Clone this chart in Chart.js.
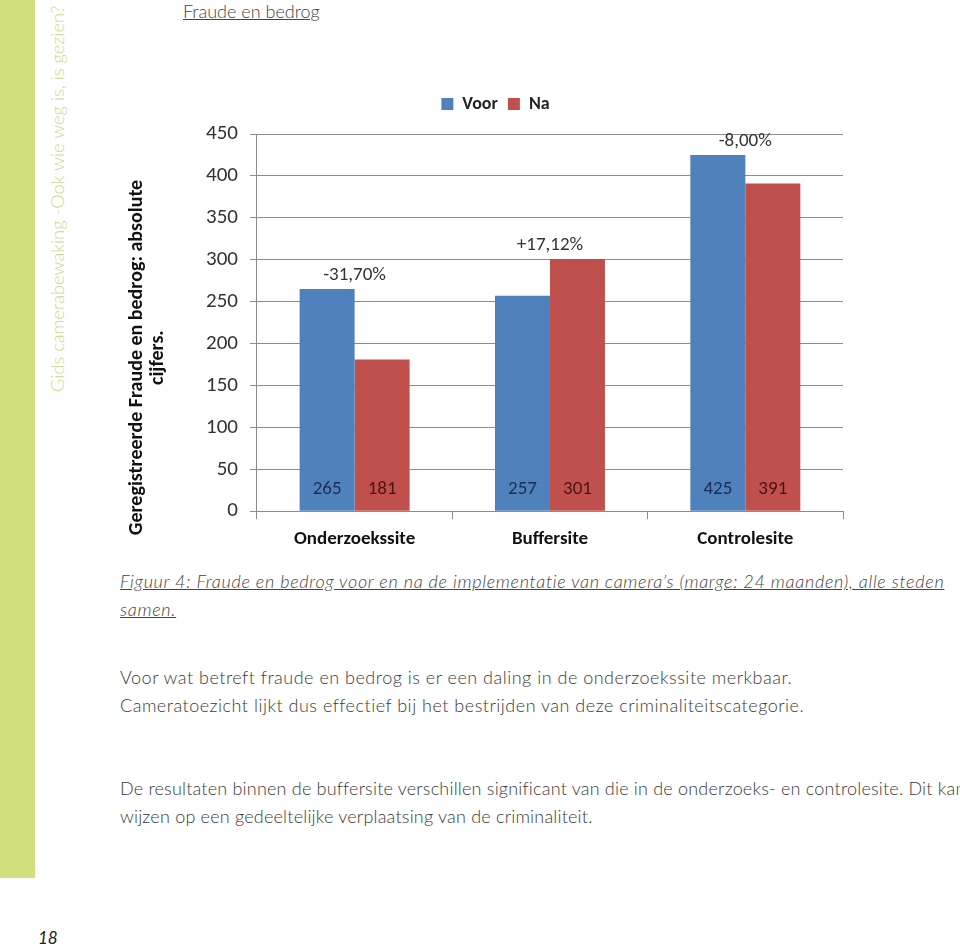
<!DOCTYPE html>
<html>
<head>
<meta charset="utf-8">
<script src="https://cdn.jsdelivr.net/npm/chart.js@4"></script>
<style>
  body { margin:0; background:#fff; width:960px; height:947px; position:relative; overflow:hidden;
         font-family: Lato, "Open Sans", sans-serif; font-weight:300; color:#3a3a3a; }
  .side { position:absolute; left:0; top:0; width:35px; height:878px; background:#d3df7d; }
  .sidetxt { position:absolute; left:46px; top:392px; transform-origin:0 0; transform:rotate(-90deg);
             white-space:nowrap; font-size:18.3px; color:#c9db8c; }
  .head { position:absolute; left:183px; top:0px; font-size:18px; text-decoration:underline; color:#444; }
  .wrap { position:absolute; left:118px; top:85px; width:742px; height:477px; }
  .cap { position:absolute; left:120px; top:567px; font-size:18px; letter-spacing:0.7px; font-style:italic; line-height:28px;
         text-decoration:underline; white-space:nowrap; color:#444; }
  .txt { position:absolute; left:120px; font-size:18px; letter-spacing:0.5px; line-height:28px; white-space:nowrap; color:#3a3a3a; }
  .pg { position:absolute; left:38px; top:927px; font-size:17px; font-style:italic; color:#222; font-weight:400; }
</style>
</head>
<body>
<div class="side"></div>
<div class="sidetxt">Gids camerabewaking -Ook wie weg is, is gezien?</div>
<div class="head">Fraude en bedrog</div>
<div class="wrap"><canvas id="chart"></canvas></div>
<div class="cap">Figuur 4: Fraude en bedrog voor en na de implementatie van camera’s (marge: 24 maanden), alle steden<br>samen.</div>
<div class="txt" style="top:663px">Voor wat betreft fraude en bedrog is er een daling in de onderzoekssite merkbaar.<br>Cameratoezicht lijkt dus effectief bij het bestrijden van deze criminaliteitscategorie.</div>
<div class="txt" style="top:774px; letter-spacing:0.2px">De resultaten binnen de buffersite verschillen significant van die in de onderzoeks- en controlesite. Dit kan<br>wijzen op een gedeeltelijke verplaatsing van de criminaliteit.</div>
<div class="pg">18</div>
<script>
let categories = ["Onderzoekssite", "Buffersite", "Controlesite"],
    voor = [265, 257, 425],
    na = [181, 301, 391],
    changeLabels = ["-31,70%", "+17,12%", "-8,00%"],
    yTitle = ["Geregistreerde Fraude en bedrog: absolute", "cijfers."]

Chart.defaults.font.family = "Carlito, Lato, sans-serif"

// value labels at the bottom of the bars + percentage above each pair
let barLabels = {
  id: "barLabels",
  afterDatasetsDraw(chart) {
    let ctx = chart.ctx, y = chart.scales.y, x = chart.scales.x
    ctx.save()
    ctx.textAlign = "center"
    ctx.textBaseline = "middle"
    ctx.font = "19px Carlito, Lato, sans-serif"
    let colors = ["#1c2d55", "#4a1212"]
    chart.data.datasets.forEach((ds, di) => {
      chart.getDatasetMeta(di).data.forEach((bar, i) => {
        ctx.fillStyle = colors[di]
        ctx.fillText(ds.data[i], bar.x, bar.base - 21)
      })
    })
    ctx.fillStyle = "#333"
    ctx.font = "19px Carlito, Lato, sans-serif"
    changeLabels.forEach((t, i) => {
      let top = y.getPixelForValue(Math.max(voor[i], na[i]))
      ctx.fillText(t, x.getPixelForValue(i), top - 14)
    })
    // y axis title
    ctx.fillStyle = "#111"
    ctx.font = "bold 20px Carlito, Lato, sans-serif"
    ctx.translate(chart.chartArea.left - 120, (y.top + y.bottom) / 2 + 35)
    ctx.rotate(-Math.PI / 2)
    ctx.fillText(yTitle[0], 0, 0)
    ctx.fillText(yTitle[1], 0, 21)
    ctx.restore()
  }
}

let legendGap = {
  id: "legendGap",
  beforeInit(chart) {
    let fit = chart.legend.fit
    chart.legend.fit = function () { fit.bind(chart.legend)(); this.height += 11 }
  }
}

new Chart(document.getElementById("chart"), {
  type: "bar",
  plugins: [barLabels, legendGap],
  data: {
    labels: categories,
    datasets: [
      { label: "Voor", data: voor, backgroundColor: "#4f81bd" },
      { label: "Na", data: na, backgroundColor: "#c0504d" }
    ]
  },
  options: {
    responsive: true,
    maintainAspectRatio: false,
    animation: false,
    categoryPercentage: 0.563,
    barPercentage: 1,
    layout: { padding: { left: 30, right: 17, bottom: 2 } },
    plugins: {
      tooltip: { enabled: false },
      legend: {
        position: "top",
        labels: { boxWidth: 12, boxHeight: 12, padding: 10, color: "#222",
                  font: { size: 18, weight: "bold" } }
      }
    },
    scales: {
      y: {
        min: 0, max: 450,
        afterFit: (scale) => { scale.width += 46 },
        ticks: { stepSize: 50, padding: 12, color: "#333", font: { size: 21 } },
        grid: { color: "#8c8c8c", tickLength: 7, lineWidth: 1 },
        border: { color: "#8c8c8c" }
      },
      x: {
        ticks: { padding: 9, color: "#111", font: { size: 19, weight: "bold" } },
        grid: { drawOnChartArea: false, color: "#8c8c8c", tickLength: 8 },
        border: { color: "#8c8c8c" }
      }
    }
  }
})
</script>
</body>
</html>
